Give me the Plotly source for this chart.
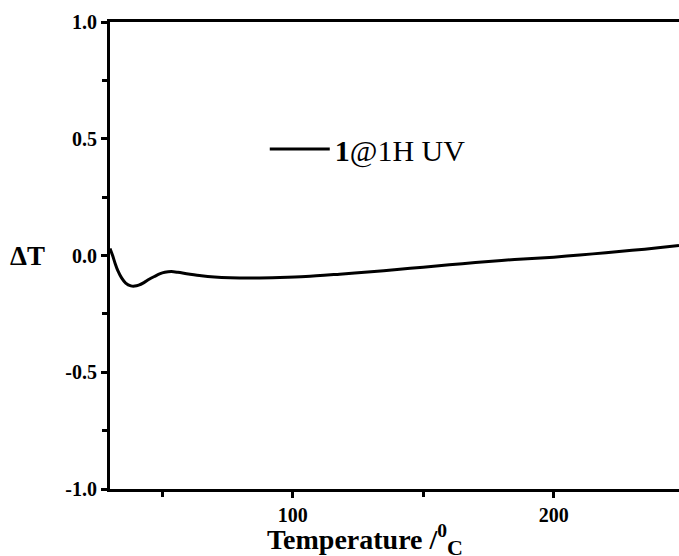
import plotly.graph_objects as go

temperature = [30, 31, 32, 33, 34.5, 36, 38, 39.5, 41, 43, 45, 47, 49, 51, 53.5, 56, 60, 65, 70, 76, 85, 95, 105, 118, 130, 140, 150, 160, 170, 180, 190, 200, 210, 220, 230, 240, 248]
delta_t = [0.03, 0.0, -0.035, -0.065, -0.097, -0.118, -0.13, -0.131, -0.127, -0.116, -0.102, -0.09, -0.079, -0.072, -0.069, -0.072, -0.079, -0.087, -0.092, -0.095, -0.096, -0.094, -0.09, -0.08, -0.07, -0.06, -0.05, -0.04, -0.03, -0.021, -0.014, -0.007, 0.002, 0.012, 0.022, 0.033, 0.043]

x_ticks = [100, 200]
x_tick_labels = ["<b>100</b>", "<b>200</b>"]
y_ticks = [-1.0, -0.5, 0.0, 0.5, 1.0]
y_tick_labels = ["<b>-1.0</b>", "<b>-0.5</b>", "<b>0.0</b>", "<b>0.5</b>", "<b>1.0</b>"]

fig = go.Figure()
fig.add_trace(go.Scatter(
    x=temperature, y=delta_t, mode="lines",
    line=dict(color="black", width=3, shape="spline", smoothing=0.8),
    name="<b>1</b>@1H UV",
))

tick_font = dict(family="Liberation Serif", size=20, color="black")

fig.update_layout(
    width=679, height=556,
    margin=dict(l=110, r=0, t=22, b=67),
    paper_bgcolor="white", plot_bgcolor="white",
    showlegend=True,
    legend=dict(x=0.272, y=0.728, xanchor="left", yanchor="middle",
                font=dict(family="Liberation Serif", size=30, color="black"),
                bgcolor="rgba(0,0,0,0)", itemwidth=60),
    xaxis=dict(
        range=[30, 248], tickvals=x_ticks, ticktext=x_tick_labels,
        showgrid=False, zeroline=False, showline=True, linecolor="black", linewidth=3,
        mirror=True, ticks="outside", ticklen=6, tickwidth=3, tickcolor="black",
        minor=dict(tickvals=[50, 150], ticks="outside", ticklen=5, tickwidth=3, tickcolor="black"),
        tickfont=tick_font,
    ),
    yaxis=dict(
        range=[-1.0, 1.0], tickvals=y_ticks, ticktext=y_tick_labels,
        showgrid=False, zeroline=False, showline=True, linecolor="black", linewidth=3,
        mirror=False, ticks="outside", ticklen=6, tickwidth=3, tickcolor="black",
        minor=dict(tickvals=[-0.75, -0.25, 0.25, 0.75], ticks="outside", ticklen=5, tickwidth=3, tickcolor="black"),
        tickfont=tick_font,
    ),
)

fig.add_annotation(
    text="<b>ΔT</b>", x=0, y=0.0, xref="paper", yref="y",
    xanchor="right", yanchor="middle", xshift=-63, showarrow=False,
    font=dict(family="Liberation Serif", size=27, color="black"),
)

fig.add_annotation(
    text="<b>Temperature /<sup>0</sup><sub><span style=\"font-size:22px\">C</span></sub></b>",
    x=0.448, y=0, xref="paper", yref="paper",
    xanchor="center", yanchor="middle", yshift=-51, showarrow=False,
    font=dict(family="Liberation Serif", size=28, color="black"),
)

fig.write_html("out.html")
